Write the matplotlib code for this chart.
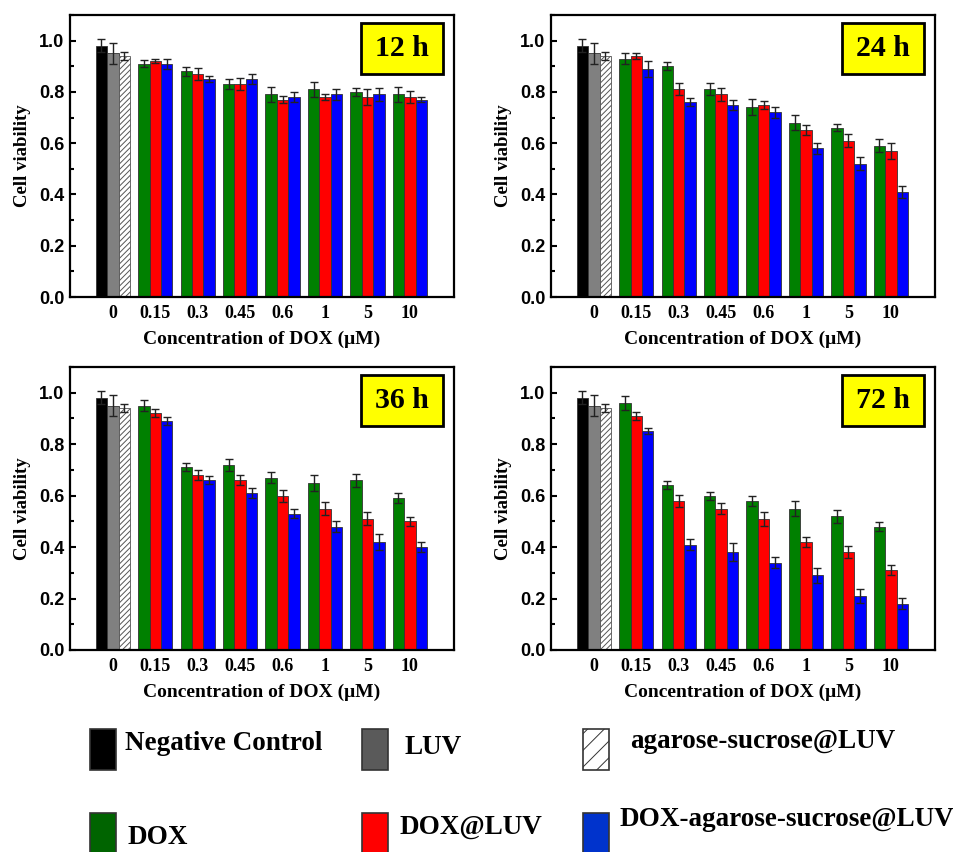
import matplotlib
matplotlib.use("Agg")
import matplotlib.pyplot as plt
from matplotlib.patches import Rectangle
from matplotlib.ticker import MultipleLocator, FormatStrFormatter
import numpy as np

# ---------------- data ----------------
concentrations = ['0', '0.15', '0.3', '0.45', '0.6', '1', '5', '10']
times = ['12 h', '24 h', '36 h', '72 h']

control_names = ['Negative Control', 'LUV', 'agarose-sucrose@LUV']
treat_names = ['DOX', 'DOX@LUV', 'DOX-agarose-sucrose@LUV']

control_vals = [0.98, 0.95, 0.94]
control_err = [0.025, 0.042, 0.015]

# treatments at 0.15, 0.3, 0.45, 0.6, 1, 5, 10 uM
dox_12 = [0.91, 0.88, 0.83, 0.79, 0.81, 0.80, 0.79]
dox_12_err = [0.013, 0.016, 0.020, 0.031, 0.028, 0.015, 0.031]
doxluv_12 = [0.92, 0.87, 0.83, 0.77, 0.78, 0.78, 0.78]
doxluv_12_err = [0.008, 0.023, 0.023, 0.013, 0.013, 0.031, 0.023]
doxags_12 = [0.91, 0.85, 0.85, 0.78, 0.79, 0.79, 0.77]
doxags_12_err = [0.020, 0.011, 0.021, 0.021, 0.020, 0.025, 0.011]

dox_24 = [0.93, 0.90, 0.81, 0.74, 0.68, 0.66, 0.59]
dox_24_err = [0.020, 0.015, 0.023, 0.031, 0.029, 0.014, 0.026]
doxluv_24 = [0.94, 0.81, 0.79, 0.75, 0.65, 0.61, 0.57]
doxluv_24_err = [0.013, 0.023, 0.027, 0.016, 0.019, 0.026, 0.030]
doxags_24 = [0.89, 0.76, 0.75, 0.72, 0.58, 0.52, 0.41]
doxags_24_err = [0.030, 0.015, 0.020, 0.021, 0.022, 0.025, 0.022]

dox_36 = [0.95, 0.71, 0.72, 0.67, 0.65, 0.66, 0.59]
dox_36_err = [0.020, 0.015, 0.024, 0.020, 0.032, 0.025, 0.019]
doxluv_36 = [0.92, 0.68, 0.66, 0.60, 0.55, 0.51, 0.50]
doxluv_36_err = [0.016, 0.021, 0.020, 0.023, 0.026, 0.025, 0.018]
doxags_36 = [0.89, 0.66, 0.61, 0.53, 0.48, 0.42, 0.40]
doxags_36_err = [0.015, 0.015, 0.018, 0.018, 0.021, 0.030, 0.020]

dox_72 = [0.96, 0.64, 0.60, 0.58, 0.55, 0.52, 0.48]
dox_72_err = [0.027, 0.015, 0.016, 0.020, 0.030, 0.026, 0.018]
doxluv_72 = [0.91, 0.58, 0.55, 0.51, 0.42, 0.38, 0.31]
doxluv_72_err = [0.016, 0.023, 0.020, 0.027, 0.020, 0.023, 0.020]
doxags_72 = [0.85, 0.41, 0.38, 0.34, 0.29, 0.21, 0.18]
doxags_72_err = [0.012, 0.022, 0.034, 0.021, 0.029, 0.027, 0.021]

panels = [
    (dox_12, dox_12_err, doxluv_12, doxluv_12_err, doxags_12, doxags_12_err),
    (dox_24, dox_24_err, doxluv_24, doxluv_24_err, doxags_24, doxags_24_err),
    (dox_36, dox_36_err, doxluv_36, doxluv_36_err, doxags_36, doxags_36_err),
    (dox_72, dox_72_err, doxluv_72, doxluv_72_err, doxags_72, doxags_72_err),
]

# ---------------- style ----------------
ctrl_colors = ['#000000', '#808080', '#ffffff']
treat_colors = ['#008000', '#ff0000', '#0000ff']
leg_ctrl_colors = ['#000000', '#5a5a5a', '#ffffff']
leg_treat_colors = ['#006400', '#ff0000', '#0033cc']

serif = 'Liberation Serif'
sans = 'Liberation Sans'
plt.rcParams['hatch.linewidth'] = 0.7

W, H = 954, 852
fig = plt.figure(figsize=(W / 100, H / 100), dpi=100)

def px_rect(left, top, right, bottom):
    return [left / W, 1 - bottom / H, (right - left) / W, (bottom - top) / H]

rects = [
    px_rect(70, 15, 454, 297),
    px_rect(551, 15, 935, 297),
    px_rect(70, 367, 454, 650),
    px_rect(551, 367, 935, 650),
]

bw = 0.27
x = np.arange(len(concentrations))

for i, (rect, data, label) in enumerate(zip(rects, panels, times)):
    ax = fig.add_axes(rect)
    # control group at x=0
    for k in range(3):
        ax.bar(x[0] + (k - 1) * bw, control_vals[k], bw,
               color=ctrl_colors[k],
               edgecolor='#555555' if k == 2 else '#333333',
               linewidth=0.6, hatch='//////' if k == 2 else None,
               yerr=control_err[k], capsize=3.2,
               error_kw=dict(ecolor='#222222', elinewidth=1.0, capthick=1.0),
               zorder=2)
    for k in range(3):
        vals = data[2 * k]
        errs = data[2 * k + 1]
        ax.bar(x[1:] + (k - 1) * bw, vals, bw, color=treat_colors[k],
               edgecolor='#333333', linewidth=0.6,
               yerr=errs, capsize=3.2,
               error_kw=dict(ecolor='#222222', elinewidth=1.0, capthick=1.0),
               zorder=2)
    ax.set_xlim(-1.01, 8.04)
    ax.set_ylim(0, 1.1)
    ax.set_xticks(x)
    ax.set_xticklabels(concentrations, fontfamily=serif, fontweight='bold',
                       fontsize=13)
    ax.yaxis.set_major_locator(MultipleLocator(0.2))
    ax.yaxis.set_minor_locator(MultipleLocator(0.1))
    ax.yaxis.set_major_formatter(FormatStrFormatter('%.1f'))
    for t in ax.get_yticklabels():
        t.set_fontfamily(sans)
        t.set_fontweight('bold')
        t.set_fontsize(13)
    ax.tick_params(axis='y', which='major', direction='in', length=4,
                   width=1.5, pad=4)
    ax.tick_params(axis='y', which='minor', direction='in', length=3,
                   width=1.5)
    ax.tick_params(axis='x', which='major', direction='in', length=4,
                   width=1.5, pad=6)
    for s in ax.spines.values():
        s.set_linewidth(1.6)
    ax.set_xlabel('Concentration of DOX (\u03bcM)', fontfamily=serif,
                  fontweight='bold', fontsize=14, labelpad=6)
    ax.set_ylabel('Cell viability', fontfamily=serif, fontweight='bold',
                  fontsize=13.5, labelpad=6)
    # time label box
    ax.add_patch(Rectangle((0.758, 0.79), 0.213, 0.182, transform=ax.transAxes,
                           facecolor='#ffff00', edgecolor='black',
                           linewidth=2, zorder=5))
    ax.text(0.8645, 0.881, label, transform=ax.transAxes, ha='center',
            va='center', fontfamily=serif, fontweight='bold', fontsize=21.5,
            zorder=6)

# ---------------- legend ----------------
def fig_rect(x0, y_top, w, h, **kw):
    r = Rectangle((x0 / W, 1 - (y_top + h) / H), w / W, h / H,
                  transform=fig.transFigure, **kw)
    fig.add_artist(r)

handle_x = [90, 362, 583]
text_x = [125, 405, 630]
row1_text_y = [743, 747, 742]
for k in range(3):
    fig_rect(handle_x[k], 729, 26, 41, facecolor=leg_ctrl_colors[k],
             edgecolor='#333333', linewidth=1.2,
             hatch='//' if k == 2 else None)
    fig.text(text_x[k] / W, 1 - row1_text_y[k] / H, control_names[k],
             fontfamily=serif, fontweight='bold', fontsize=19.5,
             ha='left', va='center')

text_x2 = [128, 400, 619]
row2_text_y = [837, 827, 820]
for k in range(3):
    fig_rect(handle_x[k], 813, 26, 42, facecolor=leg_treat_colors[k],
             edgecolor='#333333', linewidth=1.2)
    fig.text(text_x2[k] / W, 1 - row2_text_y[k] / H, treat_names[k],
             fontfamily=serif, fontweight='bold', fontsize=19.5,
             ha='left', va='center')

fig.savefig('out.png', dpi=100)
